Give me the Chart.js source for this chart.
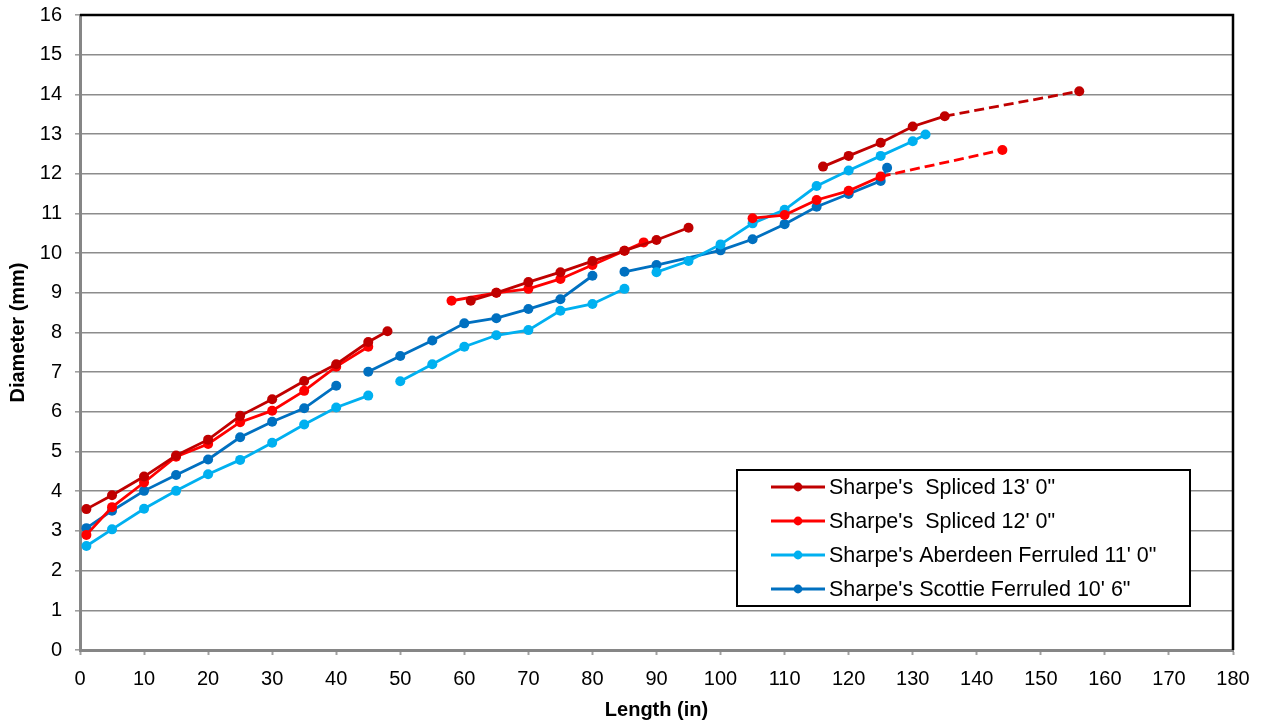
<!DOCTYPE html>
<html>
<head>
<meta charset="utf-8">
<script src="https://cdn.jsdelivr.net/npm/chart.js@4/dist/chart.umd.min.js"></script>
<style>
    html, body { margin: 0; padding: 0; background: #fff; }
    #wrap { width: 1262px; height: 724px; position: relative; }
</style>
</head>
<body>
<div id="wrap"><canvas id="chart" width="1262" height="724"></canvas></div>
<script>
// Series names
var seriesNames = [
    "Sharpe's  Spliced 13' 0\"",
    "Sharpe's  Spliced 12' 0\"",
    "Sharpe's Aberdeen Ferruled 11' 0\"",
    "Sharpe's Scottie Ferruled 10' 6\""
];
var seriesColors = ['#C00000', '#FF0000', '#00B0F0', '#0070C0'];

// Length (in) / diameter (mm), null = gap between sections
var spliced13X = [1, 5, 10, 15, 20, 25, 30, 35, 40, 45, 48, 55, 61, 65, 70, 75, 80, 85, 90, 95, 105, 116, 120, 125, 130, 135];
var spliced13Y = [3.55, 3.9, 4.37, 4.9, 5.3, 5.9, 6.32, 6.78, 7.2, 7.76, 8.03, null, 8.8, 9.0, 9.27, 9.52, 9.8, 10.06, 10.33, 10.64, null, 12.18, 12.45, 12.78, 13.19, 13.45];
var spliced13ExtX = [135, 156];
var spliced13ExtY = [13.45, 14.08];

var spliced12X = [1, 5, 10, 15, 20, 25, 30, 35, 40, 45, 50, 58, 65, 70, 75, 80, 85, 88, 95, 105, 110, 115, 120, 125];
var spliced12Y = [2.9, 3.6, 4.22, 4.87, 5.19, 5.74, 6.03, 6.53, 7.14, 7.64, null, 8.8, 9.0, 9.1, 9.35, 9.7, 10.06, 10.27, null, 10.88, 10.96, 11.34, 11.57, 11.93];
var spliced12ExtX = [125, 144];
var spliced12ExtY = [11.93, 12.6];

var aberdeenX = [1, 5, 10, 15, 20, 25, 30, 35, 40, 45, 47, 50, 55, 60, 65, 70, 75, 80, 85, 87, 90, 95, 100, 105, 110, 115, 120, 125, 130, 132];
var aberdeenY = [2.62, 3.04, 3.56, 4.01, 4.43, 4.79, 5.22, 5.68, 6.11, 6.41, null, 6.77, 7.2, 7.64, 7.93, 8.06, 8.55, 8.72, 9.1, null, 9.52, 9.8, 10.22, 10.75, 11.09, 11.69, 12.08, 12.45, 12.82, 12.99];

var scottieX = [1, 5, 10, 15, 20, 25, 30, 35, 40, 42, 45, 50, 55, 60, 65, 70, 75, 80, 82, 85, 90, 100, 105, 110, 115, 120, 125, 126];
var scottieY = [3.07, 3.51, 4.01, 4.41, 4.8, 5.36, 5.75, 6.09, 6.66, null, 7.01, 7.41, 7.8, 8.23, 8.36, 8.59, 8.84, 9.43, null, 9.53, 9.7, 10.07, 10.35, 10.73, 11.17, 11.49, 11.82, 12.15];

// Tick labels
var xTickValues = [0, 10, 20, 30, 40, 50, 60, 70, 80, 90, 100, 110, 120, 130, 140, 150, 160, 170, 180];
var yTickValues = [0, 1, 2, 3, 4, 5, 6, 7, 8, 9, 10, 11, 12, 13, 14, 15, 16];

function toPoints(xs, ys) {
    return xs.map(function (x, i) { return { x: x, y: ys[i] }; });
}

function lineSet(label, color, xs, ys) {
    return {
        label: label,
        data: toPoints(xs, ys),
        borderColor: color,
        backgroundColor: color,
        borderWidth: 2.8,
        pointRadius: 5,
        pointHoverRadius: 5,
        pointBorderWidth: 0,
        spanGaps: false,
        tension: 0
    };
}

function dashSet(color, xs, ys) {
    var ds = lineSet('', color, xs, ys);
    ds.borderDash = [10, 5];
    ds.pointRadius = [0, 5];
    return ds;
}

// Legend box inside the plot, drawn like the spreadsheet one
var boxLegend = {
    id: 'boxLegend',
    afterDraw: function (chart) {
        var ctx = chart.ctx;
        var area = chart.chartArea;
        ctx.save();
        // top and right plot border
        ctx.strokeStyle = '#000';
        ctx.lineWidth = 2.5;
        ctx.beginPath();
        ctx.moveTo(area.left, area.top);
        ctx.lineTo(area.right, area.top);
        ctx.lineTo(area.right, area.bottom);
        ctx.stroke();

        var bx = 737, by = 470, bw = 453, bh = 136;
        ctx.fillStyle = '#fff';
        ctx.fillRect(bx, by, bw, bh);
        ctx.lineWidth = 2;
        ctx.strokeRect(bx, by, bw, bh);
        ctx.font = '21.5px "Liberation Sans", Arial, sans-serif';
        ctx.textBaseline = 'middle';
        seriesNames.forEach(function (name, i) {
            var cy = 487 + i * 34;
            ctx.strokeStyle = seriesColors[i];
            ctx.fillStyle = seriesColors[i];
            ctx.lineWidth = 3;
            ctx.beginPath();
            ctx.moveTo(771, cy);
            ctx.lineTo(825, cy);
            ctx.stroke();
            ctx.beginPath();
            ctx.arc(798, cy, 4.4, 0, Math.PI * 2);
            ctx.fill();
            ctx.fillStyle = '#000';
            ctx.fillText(name, 829, cy + 1);
        });
        ctx.restore();
    }
};

document.addEventListener('DOMContentLoaded', function () {
    var tickFont = { family: '"Liberation Sans", Arial, sans-serif', size: 20 };
    var titleFont = { family: '"Liberation Sans", Arial, sans-serif', size: 20, weight: 'bold' };

    new Chart(document.getElementById('chart'), {
        type: 'line',
        data: {
            datasets: [
                lineSet(seriesNames[0], seriesColors[0], spliced13X, spliced13Y),
                lineSet(seriesNames[1], seriesColors[1], spliced12X, spliced12Y),
                lineSet(seriesNames[2], seriesColors[2], aberdeenX, aberdeenY),
                lineSet(seriesNames[3], seriesColors[3], scottieX, scottieY),
                dashSet(seriesColors[0], spliced13ExtX, spliced13ExtY),
                dashSet(seriesColors[1], spliced12ExtX, spliced12ExtY)
            ]
        },
        options: {
            responsive: false,
            animation: false,
            maintainAspectRatio: false,
            layout: { padding: { top: 15, right: 29, left: 0, bottom: 0 } },
            plugins: {
                legend: { display: false },
                tooltip: { enabled: false }
            },
            scales: {
                x: {
                    type: 'linear',
                    min: 0,
                    max: 180,
                    afterBuildTicks: function (s) {
                        s.ticks = xTickValues.map(function (v) { return { value: v }; });
                    },
                    afterFit: function (s) { s.height = 74; },
                    border: { color: '#868686', width: 3 },
                    grid: {
                        drawOnChartArea: false,
                        drawTicks: true,
                        tickLength: 5,
                        tickColor: '#a0a0a0',
                        tickWidth: 2
                    },
                    ticks: { color: '#000', font: tickFont, padding: 12, maxRotation: 0, autoSkip: false },
                    title: { display: true, text: 'Length (in)', color: '#000', font: titleFont, padding: { top: 0, bottom: 2 } }
                },
                y: {
                    type: 'linear',
                    min: 0,
                    max: 16,
                    afterBuildTicks: function (s) {
                        s.ticks = yTickValues.map(function (v) { return { value: v }; });
                    },
                    afterFit: function (s) {
                        s.width = 80;
                        s.paddingTop = 0;
                        s.paddingBottom = 0;
                    },
                    border: { color: '#868686', width: 3 },
                    grid: {
                        color: '#8c8c8c',
                        lineWidth: 1.6,
                        drawTicks: true,
                        tickLength: 5,
                        tickColor: '#a0a0a0'
                    },
                    ticks: { color: '#000', font: tickFont, padding: 13, autoSkip: false },
                    title: { display: true, text: 'Diameter (mm)', color: '#000', font: titleFont, padding: { top: 6, bottom: 0 } }
                }
            }
        },
        plugins: [boxLegend]
    });
});
</script>
</body>
</html>
